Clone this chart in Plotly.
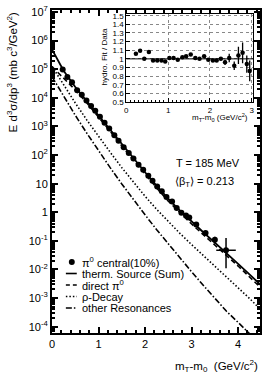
import plotly.graph_objects as go

# ---------------- data ----------------
model_x = [0, 0.25, 0.5, 0.75, 1.0, 1.25, 1.5, 1.75, 2.0, 2.25, 2.5, 2.75, 3.0,
           3.25, 3.5, 3.75, 4.0, 4.25, 4.5]
therm_sum = [4.90e5, 8.91e4, 2.40e4, 7.59e3, 2.51e3, 759, 234, 75.9, 25.1, 8.32,
             2.95, 1.15, 0.468, 0.200, 0.0871, 0.0380, 0.0158, 0.00661, 0.00275]
direct_pi0 = [1.23e5, 5.01e4, 1.91e4, 6.61e3, 2.19e3, 676, 209, 66.1, 21.4, 7.08,
              2.45, 0.955, 0.389, 0.166, 0.0724, 0.0316, 0.0132, 0.00537, 0.00219]
rho_decay = [1.26e5, 2.82e4, 6.61e3, 1.66e3, 447, 126, 36.3, 11.2, 3.63, 1.26,
             0.468, 0.182, 0.0741, 0.0309, 0.0132, 0.00562, 0.00229, 9.55e-4, 3.72e-4]
other_res = [5.50e4, 1.12e4, 2.45e3, 575, 141, 36.3, 9.77, 2.75, 0.813, 0.245,
             0.0776, 0.0251, 0.00832, 0.00282, 9.77e-4, 3.47e-4, 1.41e-4, 5.62e-5, 2.24e-5]

pi0_x = [0.23, 0.33, 0.43, 0.54, 0.64, 0.74, 0.84, 0.93, 1.03, 1.13, 1.23, 1.34,
         1.43, 1.54, 1.65, 1.75, 1.86, 1.96, 2.07, 2.16, 2.26, 2.36, 2.46, 2.58,
         2.68, 2.78, 2.88, 2.95, 3.1, 3.3, 3.5, 3.74]
pi0_y = [9.7e4, 5.4e4, 3.5e4, 1.85e4, 1.28e4, 8.1e3, 5.2e3, 3.5e3, 2.17e3, 1.34e3,
         840, 491, 314, 186, 119, 75.9, 45.4, 30.5, 19.0, 12.6, 7.94, 5.47, 3.44,
         2.38, 1.42, 0.957, 0.771, 0.655, 0.37, 0.19, 0.11, 0.047]
pi0_err_up = [0]*28 + [0.03, 0.03, 0.03, 0.079]
pi0_err_dn = [0]*28 + [0.03, 0.03, 0.03, 0.036]
pi0_err_x = [0]*31 + [0.21]

ratio_x = pi0_x[:28]
ratio_y = [1.06, 1.095, 1.0, 1.08, 0.98, 0.98, 0.98, 0.97, 1.01, 1.01, 0.99, 1.02,
           1.03, 1.05, 1.01, 1.0, 1.03, 0.99, 0.98, 0.98, 1.0, 0.96, 1.01, 0.92,
           1.04, 1.07, 0.94, 0.86]
ratio_err = [0.01]*20 + [0.02, 0.03, 0.05, 0.05, 0.1, 0.12, 0.1, 0.12]

main_ytick_exp = [-4, -3, -2, -1, 0, 1, 2, 3, 4, 5, 6, 7]
main_ytick_text = ["10<sup>-4</sup>", "10<sup>-3</sup>", "10<sup>-2</sup>", "10<sup>-1</sup>",
                   "1", "10", "10<sup>2</sup>", "10<sup>3</sup>", "10<sup>4</sup>",
                   "10<sup>5</sup>", "10<sup>6</sup>", "10<sup>7</sup>"]

legend_labels = ["π<sup>0</sup> central(10%)", "therm. Source (Sum)", "direct π<sup>0</sup>",
                 "ρ-Decay", "other Resonances"]

# ---------------- geometry helpers ----------------
W, H = 265, 376
L, R, T, B = 52, 3, 10, 43
PW, PH = W - L - R, H - T - B


def px(xp):
    return (xp - L) / PW


def py(yp):
    return (H - B - yp) / PH


FONT = "Liberation Sans, Arial, Helvetica, sans-serif"

fig = go.Figure()

fig.add_trace(go.Scatter(x=model_x, y=therm_sum, mode="lines",
                         line=dict(color="black", width=1.8), showlegend=False))
fig.add_trace(go.Scatter(x=model_x, y=direct_pi0, mode="lines",
                         line=dict(color="black", width=1.6, dash="5px,3px"), showlegend=False))
fig.add_trace(go.Scatter(x=model_x, y=rho_decay, mode="lines",
                         line=dict(color="black", width=1.6, dash="1.5px,2px"), showlegend=False))
fig.add_trace(go.Scatter(x=model_x, y=other_res, mode="lines",
                         line=dict(color="black", width=1.6, dash="6px,2px,1.5px,2px"), showlegend=False))
fig.add_trace(go.Scatter(x=pi0_x, y=pi0_y, mode="markers",
                         marker=dict(color="black", size=6),
                         error_y=dict(type="data", array=pi0_err_up, arrayminus=pi0_err_dn,
                                      color="black", thickness=1.5, width=0),
                         error_x=dict(type="data", array=pi0_err_x, color="black",
                                      thickness=1.5, width=0),
                         showlegend=False))

# inset
fig.add_trace(go.Scatter(x=[0, 3.03], y=[1, 1], mode="lines", xaxis="x2", yaxis="y2",
                         line=dict(color="black", width=1), showlegend=False))
fig.add_trace(go.Scatter(x=ratio_x, y=ratio_y, mode="markers", xaxis="x2", yaxis="y2",
                         marker=dict(color="black", size=4.5),
                         error_y=dict(type="data", array=ratio_err, color="black",
                                      thickness=1.3, width=0),
                         showlegend=False))

axis_common = dict(showline=True, linecolor="black", mirror="allticks", ticks="inside",
                   tickcolor="black", showgrid=False, zeroline=False)

fig.update_layout(
    width=W, height=H, margin=dict(l=L, r=R, t=T, b=B),
    paper_bgcolor="white", plot_bgcolor="white",
    font=dict(family=FONT, size=11, color="black"),
    xaxis=dict(range=[0, 4.47], tickvals=[0, 1, 2, 3, 4], ticklen=6, tickwidth=1.5,
               linewidth=2, minor=dict(dtick=0.2, ticks="inside", ticklen=3, tickcolor="black"),
               tickfont=dict(size=11), **axis_common),
    yaxis=dict(type="log", range=[-4.22, 7.07],
               tickvals=[10 ** e for e in main_ytick_exp], ticktext=main_ytick_text,
               ticklen=6, tickwidth=1.5, linewidth=2,
               minor=dict(dtick="D1", ticks="inside", ticklen=3, tickcolor="black"),
               tickfont=dict(size=11), **axis_common),
    xaxis2=dict(domain=[px(127), px(255)], anchor="y2", range=[0, 3.03],
                tickvals=[0, 1, 2, 3], ticklen=4, linewidth=1,
                minor=dict(dtick=0.1, ticks="inside", ticklen=2, tickcolor="black"),
                tickfont=dict(size=8), showline=True, linecolor="black", mirror=True,
                ticks="inside", tickcolor="black", zeroline=False,
                showgrid=True, gridcolor="#888888", griddash="dot", gridwidth=0.5),
    yaxis2=dict(domain=[py(102), py(14)], anchor="x2", range=[0.5, 1.52],
                tickvals=[0.5, 0.6, 0.7, 0.8, 0.9, 1.0, 1.1, 1.2, 1.3, 1.4, 1.5],
                ticktext=["0.5", "0.6", "0.7", "0.8", "0.9", "1", "1.1", "1.2", "1.3", "1.4", "1.5"],
                ticklen=4, linewidth=1, tickfont=dict(size=8),
                showline=True, linecolor="black", mirror=True, ticks="inside",
                tickcolor="black", zeroline=False,
                showgrid=True, gridcolor="#888888", griddash="dot", gridwidth=0.5),
)

annotations = [
    dict(text="E d<sup>3</sup>σ/dp<sup>3</sup> (mb c<sup>3</sup>/GeV<sup>2</sup>)",
         x=px(12), y=py(10), xref="paper", yref="paper", textangle=-90,
         xanchor="center", yanchor="top", showarrow=False, font=dict(size=11.5)),
    dict(text="m<sub>T</sub>-m<sub>0</sub>  (GeV/c<sup>2</sup>)",
         x=px(262), y=py(366), xref="paper", yref="paper", xanchor="right",
         yanchor="middle", showarrow=False, font=dict(size=11.5)),
    dict(text="T = 185 MeV", x=px(175), y=py(163), xref="paper", yref="paper",
         xanchor="left", yanchor="middle", showarrow=False, font=dict(size=11)),
    dict(text="⟨β<sub>T</sub>⟩ = 0.213", x=px(174), y=py(182), xref="paper", yref="paper",
         xanchor="left", yanchor="middle", showarrow=False, font=dict(size=11)),
    dict(text="hydro. Fit / Data", x=px(104), y=py(57), xref="paper", yref="paper",
         textangle=-90, xanchor="center", yanchor="middle", showarrow=False,
         font=dict(size=8)),
    dict(text="m<sub>T</sub>-m<sub>0</sub> (GeV/c<sup>2</sup>)", x=px(252), y=py(118),
         xref="paper", yref="paper", xanchor="right", yanchor="middle",
         showarrow=False, font=dict(size=8)),
]

legend_rows = [262, 273.5, 285, 296.5, 308]
for lab, yy in zip(legend_labels, legend_rows):
    annotations.append(dict(text=lab, x=px(80), y=py(yy), xref="paper", yref="paper",
                            xanchor="left", yanchor="middle", showarrow=False,
                            font=dict(size=11)))

shapes = [
    dict(type="circle", xref="paper", yref="paper", x0=px(69), x1=px(75),
         y0=py(legend_rows[0] + 3), y1=py(legend_rows[0] - 3),
         fillcolor="black", line=dict(color="black", width=0)),
]
dashes = ["solid", "4px,3px", "1.5px,2px", "6px,2px,1.5px,2px"]
for d, yy in zip(dashes, legend_rows[1:]):
    shapes.append(dict(type="line", xref="paper", yref="paper", x0=px(66), x1=px(77),
                       y0=py(yy), y1=py(yy), line=dict(color="black", width=1.6, dash=d)))

fig.update_layout(annotations=annotations, shapes=shapes)

fig.write_html("out.html", config={"displayModeBar": False},
               post_script="document.body.style.margin='0px';document.body.style.padding='0px';"
                           "document.body.style.overflow='hidden';")
